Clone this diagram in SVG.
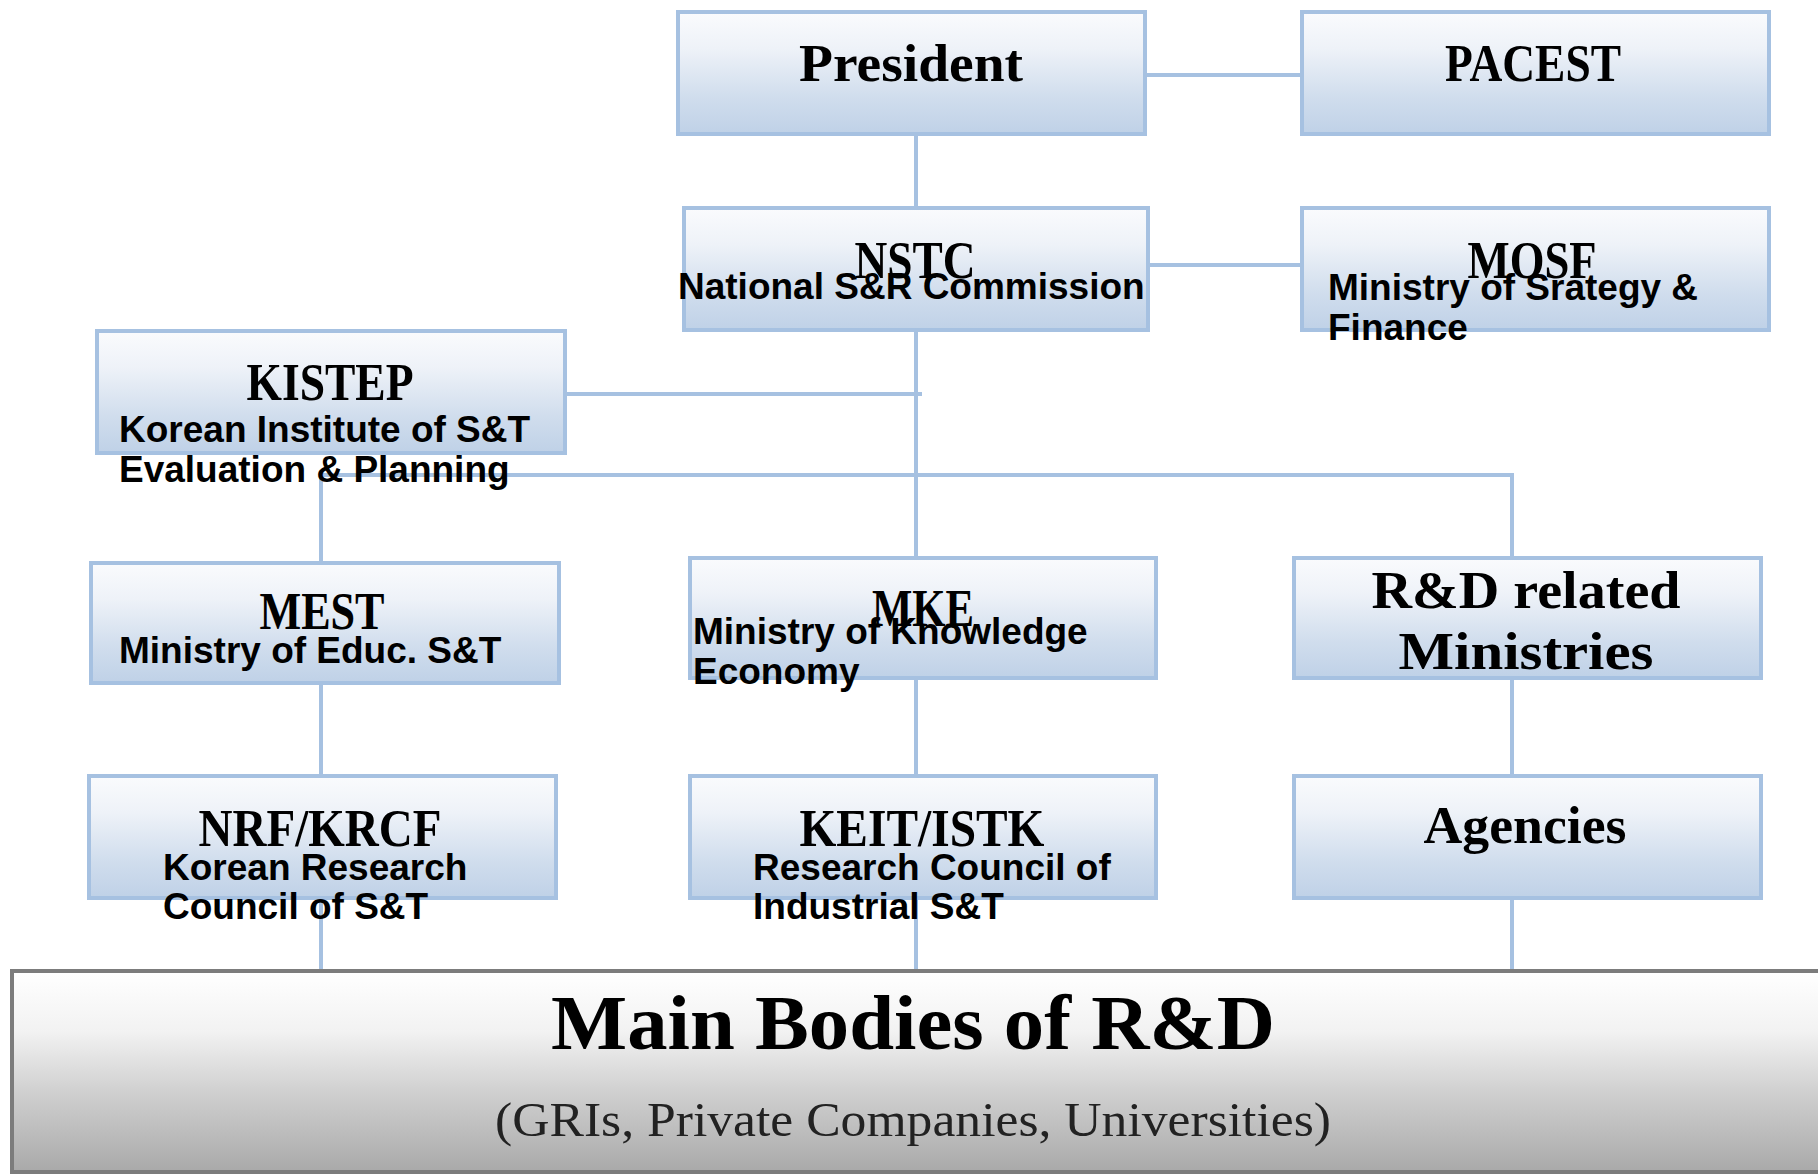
<svg xmlns="http://www.w3.org/2000/svg" width="1818" height="1175" viewBox="0 0 1818 1175">
<defs>
<linearGradient id="gBox" x1="0" y1="0" x2="0" y2="1">
<stop offset="0" stop-color="#fafbfd"/>
<stop offset="0.3" stop-color="#eef2f8"/>
<stop offset="0.7" stop-color="#d0dded"/>
<stop offset="1" stop-color="#bfd1e7"/>
</linearGradient>
<linearGradient id="gMain" x1="0" y1="0" x2="0" y2="1">
<stop offset="0" stop-color="#ffffff"/>
<stop offset="0.3" stop-color="#f2f2f2"/>
<stop offset="0.6" stop-color="#d0d0d0"/>
<stop offset="1" stop-color="#a9a9a9"/>
</linearGradient>
</defs>
<style>
.box{fill:url(#gBox);stroke:#a6c1e1;stroke-width:4}
.main{fill:url(#gMain);stroke:#7c7c7c;stroke-width:4}
.conn{stroke:#a6c1e1;stroke-width:4;fill:none}
.t{font-family:"Liberation Serif","Times New Roman",serif;font-weight:bold;font-size:52px;fill:#000;text-anchor:middle}
.s{font-family:"Liberation Sans",Arial,sans-serif;font-weight:bold;font-size:37px;fill:#000}
.mt{font-family:"Liberation Serif","Times New Roman",serif;font-weight:bold;font-size:78px;fill:#000;text-anchor:middle}
.ms{font-family:"Liberation Serif","Times New Roman",serif;font-size:48px;fill:#222;text-anchor:middle}
</style>
<rect width="1818" height="1175" fill="#ffffff"/>
<g id="connectors">
<line class="conn" x1="1145" y1="75" x2="1301" y2="75"/>
<line class="conn" x1="916" y1="134" x2="916" y2="206"/>
<line class="conn" x1="1148" y1="265" x2="1301" y2="265"/>
<line class="conn" x1="916" y1="330" x2="916" y2="556"/>
<line class="conn" x1="565" y1="394" x2="922" y2="394"/>
<polyline class="conn" points="321,562 321,475 1512,475 1512,556"/>
<line class="conn" x1="321" y1="683" x2="321" y2="774"/>
<line class="conn" x1="321" y1="898" x2="321" y2="970"/>
<line class="conn" x1="916" y1="678" x2="916" y2="774"/>
<line class="conn" x1="916" y1="898" x2="916" y2="970"/>
<line class="conn" x1="1512" y1="678" x2="1512" y2="774"/>
<line class="conn" x1="1512" y1="898" x2="1512" y2="970"/>
</g>
<g id="president">
<rect class="box" x="678" y="12" width="467" height="122"/>
<text class="t" x="911" y="81" textLength="224" lengthAdjust="spacingAndGlyphs">President</text>
</g>
<g id="pacest">
<rect class="box" x="1302" y="12" width="467" height="122"/>
<text class="t" x="1533" y="81" textLength="176" lengthAdjust="spacingAndGlyphs">PACEST</text>
</g>
<g id="nstc">
<rect class="box" x="684" y="208" width="464" height="122"/>
<text class="t" x="915" y="278" textLength="121" lengthAdjust="spacingAndGlyphs">NSTC</text>
<text class="s" x="678" y="299">National S&amp;R Commission</text>
</g>
<g id="mosf">
<rect class="box" x="1302" y="208" width="467" height="122"/>
<text class="t" x="1532" y="278" textLength="129" lengthAdjust="spacingAndGlyphs">MOSF</text>
<text class="s" x="1328" y="300">Ministry of Srategy &amp;</text>
<text class="s" x="1328" y="340">Finance</text>
</g>
<g id="kistep">
<rect class="box" x="97" y="331" width="468" height="122"/>
<text class="t" x="330" y="400" textLength="167" lengthAdjust="spacingAndGlyphs">KISTEP</text>
<text class="s" x="119" y="442">Korean Institute of S&amp;T</text>
<text class="s" x="119" y="482">Evaluation &amp; Planning</text>
</g>
<g id="mest">
<rect class="box" x="91" y="563" width="468" height="120"/>
<text class="t" x="322" y="629" textLength="125" lengthAdjust="spacingAndGlyphs">MEST</text>
<text class="s" x="119" y="663">Ministry of Educ. S&amp;T</text>
</g>
<g id="mke">
<rect class="box" x="690" y="558" width="466" height="120"/>
<text class="t" x="923" y="626" textLength="102" lengthAdjust="spacingAndGlyphs">MKE</text>
<text class="s" x="693" y="644">Ministry of Knowledge</text>
<text class="s" x="693" y="684">Economy</text>
</g>
<g id="rd-ministries">
<rect class="box" x="1294" y="558" width="467" height="120"/>
<text class="t" x="1526" y="608" textLength="309" lengthAdjust="spacingAndGlyphs">R&amp;D related</text>
<text class="t" x="1526" y="669" textLength="255" lengthAdjust="spacingAndGlyphs">Ministries</text>
</g>
<g id="nrf">
<rect class="box" x="89" y="776" width="467" height="122"/>
<text class="t" x="320" y="846" textLength="243" lengthAdjust="spacingAndGlyphs">NRF/KRCF</text>
<text class="s" x="163" y="880">Korean Research</text>
<text class="s" x="163" y="919">Council of S&amp;T</text>
</g>
<g id="keit">
<rect class="box" x="690" y="776" width="466" height="122"/>
<text class="t" x="922" y="846" textLength="245" lengthAdjust="spacingAndGlyphs">KEIT/ISTK</text>
<text class="s" x="753" y="880">Research Council of</text>
<text class="s" x="753" y="919">Industrial S&amp;T</text>
</g>
<g id="agencies">
<rect class="box" x="1294" y="776" width="467" height="122"/>
<text class="t" x="1525" y="843" textLength="203" lengthAdjust="spacingAndGlyphs">Agencies</text>
</g>
<g id="main-bodies">
<rect class="main" x="12" y="971" width="1820" height="201"/>
<text class="mt" x="913" y="1049" textLength="724" lengthAdjust="spacingAndGlyphs">Main Bodies of R&amp;D</text>
<text class="ms" x="913" y="1136" textLength="836" lengthAdjust="spacingAndGlyphs">(GRIs, Private Companies, Universities)</text>
</g>
</svg>
